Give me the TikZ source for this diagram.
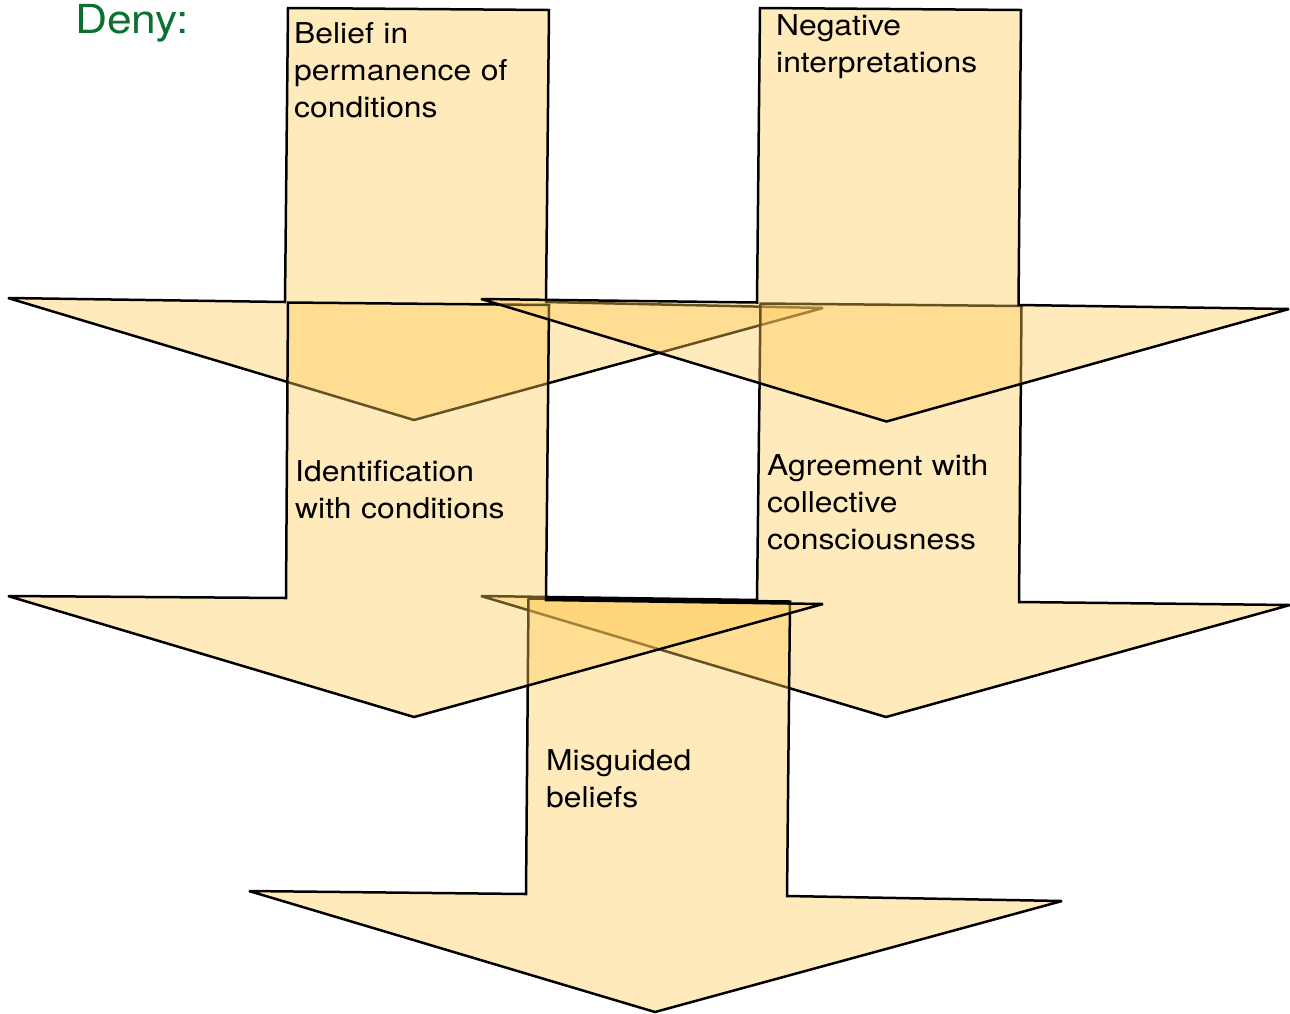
\documentclass[tikz,border=0pt]{standalone}
\usepackage{fontspec}
\setmainfont[FakeStretch=1.11]{TeX Gyre Heros}
\definecolor{arrowfill}{RGB}{255,203,88}
\definecolor{denygreen}{RGB}{14,112,48}
\begin{document}
\begin{tikzpicture}[x=1pt,y=-1pt,
  arrowshape/.style={draw=black, line width=2.5pt, miter limit=3, fill=arrowfill, fill opacity=0.4},
  arrowlabel/.style={anchor=base west, inner sep=0pt, text width=320pt, align=left,
    font=\fontsize{28.7}{37}\selectfont},
  titlelabel/.style={anchor=base west, inner sep=0pt, text=denygreen,
    font=\fontsize{40}{46}\selectfont}]
\useasboundingbox (0,0) rectangle (1290,1013);
% arrow 1: Belief in permanence of conditions
\draw[arrowshape] (288,8) -- (549,10) -- (546,302) -- (823,308) -- (414,420) -- (8,298) -- (285,302) -- cycle;
% arrow 4: Agreement with collective consciousness
\draw[arrowshape] (760.5,303.5) -- (1021.5,306) -- (1019,602) -- (1290,605) -- (886,717) -- (481,596) -- (757,600) -- cycle;
% arrow 5: Misguided beliefs
\draw[arrowshape] (528.5,598.5) -- (790,601.5) -- (787,896) -- (1062,901) -- (655,1012) -- (249,891) -- (526,894) -- cycle;
% arrow 3: Identification with conditions
\draw[arrowshape] (288,302.5) -- (549,305) -- (546,600) -- (823,604) -- (414,717) -- (8,596) -- (286,598) -- cycle;
% arrow 2: Negative interpretations
\draw[arrowshape] (760,8) -- (1021,10) -- (1018.5,305) -- (1289,309) -- (886.5,421.5) -- (481,299) -- (757,302.5) -- cycle;
% labels
\node[titlelabel] (deny) at (75,33.5) {Deny:};
\node[arrowlabel] (t1) at (294,43.3) {Belief in\\permanence of\\conditions};
\node[arrowlabel] (t2) at (776,35) {Negative\\interpretations};
\node[arrowlabel] (t3) at (295,481.7) {Identification\\with conditions};
\node[arrowlabel] (t4) at (767,475) {Agreement with\\collective\\consciousness};
\node[arrowlabel] (t5) at (546,770) {Misguided\\beliefs};
\end{tikzpicture}
\end{document}
